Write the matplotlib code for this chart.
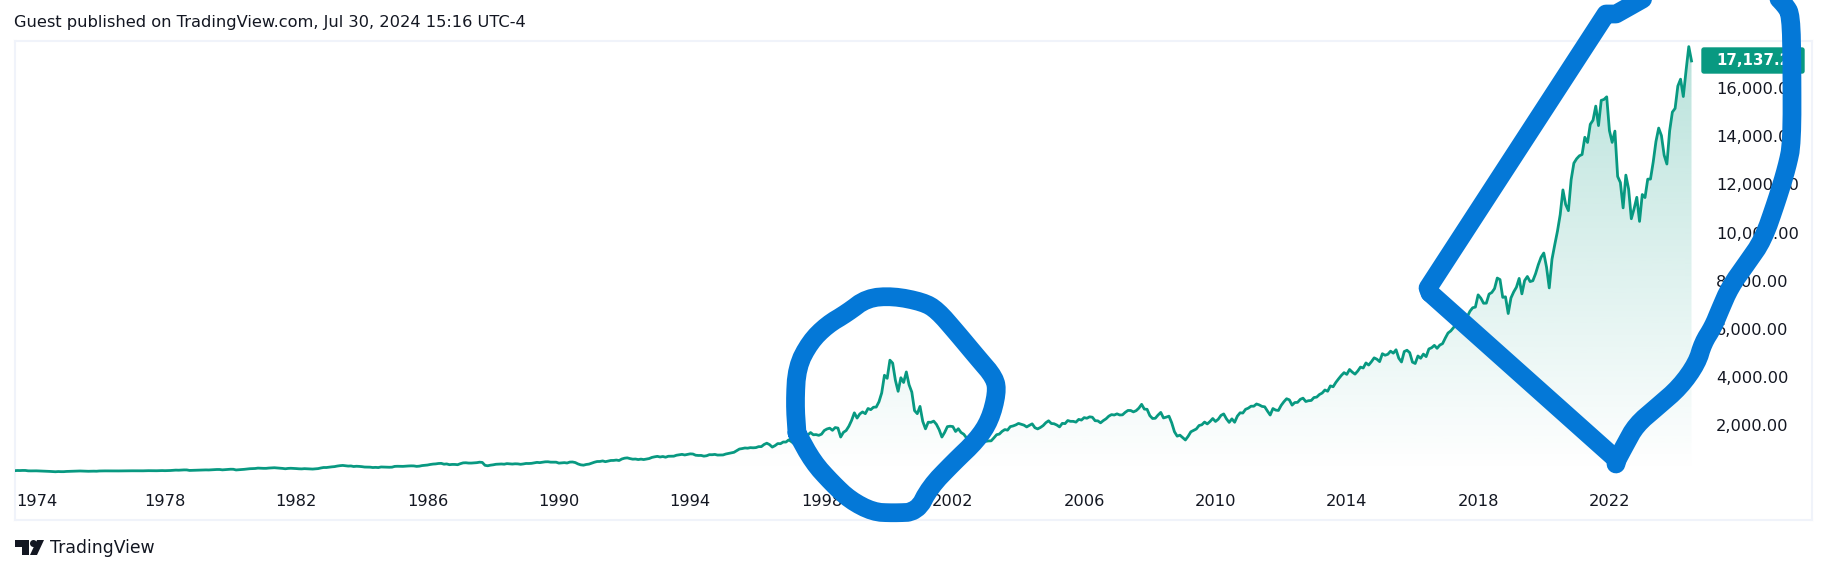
import numpy as np
import matplotlib
matplotlib.use('Agg')
import matplotlib.pyplot as plt
from matplotlib.patches import FancyBboxPatch, Polygon, Circle

plt.rcParams['font.family'] = ['DejaVu Sans']

# monthly closes, first bar is June 1973
start_year = 1973 + 5 / 12
closes = [
    100, 108, 106, 111, 110, 94, 92,
    95, 94, 90, 85, 80, 74, 70, 65, 56, 65, 60, 60,
    69, 73, 75, 79, 84, 88, 83, 79, 76, 80, 81, 78,
    88, 92, 92, 91, 88, 91, 91, 90, 92, 90, 92, 98,
    96, 95, 94, 95, 95, 100, 101, 100, 101, 98, 103, 105,
    101, 103, 108, 115, 124, 120, 127, 133, 132, 111, 115, 118,
    126, 123, 132, 133, 130, 137, 141, 150, 150, 135, 144, 151,
    161, 159, 131, 139, 150, 157, 171, 182, 188, 192, 208, 202,
    198, 198, 210, 216, 223, 215, 206, 195, 180, 195, 201, 196,
    188, 179, 175, 185, 178, 171, 168, 177, 187, 213, 233, 232,
    248, 260, 270, 293, 309, 319, 304, 292, 297, 274, 285, 279,
    268, 252, 250, 247, 232, 239, 230, 255, 250, 247, 243, 247,
    279, 284, 280, 280, 290, 296, 301, 298, 280, 289, 313, 325,
    336, 359, 375, 383, 400, 405, 371, 381, 350, 361, 360, 349,
    392, 425, 430, 417, 417, 424, 434, 454, 444, 323, 305, 330,
    345, 367, 374, 379, 370, 394, 387, 376, 387, 383, 366, 381,
    401, 399, 406, 428, 446, 435, 453, 469, 472, 455, 456, 454,
    415, 425, 435, 420, 458, 462, 438, 381, 344, 330, 359, 374,
    414, 453, 482, 484, 506, 475, 502, 525, 527, 542, 523, 586,
    620, 633, 603, 579, 585, 563, 581, 563, 583, 605, 652, 677,
    696, 670, 690, 661, 700, 704, 704, 743, 763, 779, 754, 777,
    800, 793, 743, 733, 735, 705, 722, 766, 764, 777, 750, 752,
    755, 793, 817, 843, 865, 933, 1001, 1020, 1044, 1036, 1059, 1052,
    1060, 1100, 1101, 1190, 1243, 1185, 1081, 1142, 1227, 1222, 1293, 1291,
    1380, 1309, 1221, 1260, 1400, 1442, 1594, 1587, 1686, 1594, 1601, 1570,
    1619, 1771, 1835, 1868, 1779, 1894, 1872, 1499, 1694, 1771, 1950, 2193,
    2506, 2288, 2461, 2543, 2471, 2686, 2638, 2739, 2746, 2966, 3336, 4069,
    3940, 4696, 4573, 3861, 3401, 3966, 3767, 4206, 3673, 3369, 2598, 2471,
    2773, 2152, 1840, 2116, 2110, 2161, 2027, 1805, 1499, 1690, 1931, 1950,
    1934, 1731, 1845, 1688, 1616, 1463, 1328, 1315, 1172, 1330, 1479, 1336,
    1321, 1338, 1341, 1464, 1596, 1623, 1735, 1810, 1787, 1932, 1960, 2003,
    2066, 2030, 1994, 1920, 1987, 2048, 1887, 1838, 1897, 1975, 2096, 2175,
    2062, 2052, 1999, 1921, 2068, 2057, 2185, 2152, 2152, 2120, 2233, 2205,
    2306, 2281, 2340, 2323, 2179, 2172, 2091, 2184, 2258, 2367, 2432, 2415,
    2464, 2416, 2422, 2525, 2605, 2603, 2546, 2596, 2702, 2859, 2661, 2652,
    2390, 2271, 2279, 2413, 2523, 2293, 2326, 2368, 2092, 1721, 1536, 1577,
    1476, 1378, 1529, 1717, 1774, 1835, 1979, 2009, 2122, 2045, 2145, 2269,
    2147, 2238, 2398, 2461, 2257, 2109, 2255, 2114, 2369, 2507, 2498, 2653,
    2700, 2782, 2781, 2874, 2835, 2774, 2756, 2579, 2415, 2684, 2620, 2605,
    2814, 2967, 3092, 3046, 2827, 2935, 2940, 3067, 3116, 2977, 3010, 3020,
    3142, 3160, 3268, 3329, 3456, 3403, 3626, 3590, 3771, 3920, 4060, 4177,
    4104, 4308, 4199, 4115, 4243, 4408, 4370, 4580, 4493, 4631, 4792, 4736,
    4635, 4964, 4901, 4941, 5070, 4987, 5128, 4777, 4620, 5054, 5109, 5007,
    4614, 4558, 4870, 4775, 4948, 4843, 5162, 5213, 5312, 5189, 5324, 5383,
    5615, 5825, 5912, 6048, 6199, 6140, 6348, 6429, 6496, 6728, 6874, 6903,
    7411, 7273, 7063, 7066, 7442, 7510, 7672, 8110, 8046, 7306, 7331, 6635,
    7282, 7533, 7729, 8095, 7453, 8006, 8175, 7963, 7999, 8292, 8665, 8973,
    9151, 8567, 7700, 8890, 9490, 10059, 10745, 11775, 11168, 10912, 12199, 12888,
    13070, 13192, 13247, 13963, 13749, 14504, 14673, 15259, 14449, 15498, 15537, 15645,
    14239, 13751, 14220, 12335, 12081, 11028, 12390, 11816, 10576, 10988, 11468, 10466,
    11584, 11456, 12222, 12226, 12935, 13788, 14346, 14035, 13219, 12851, 14226, 15011,
    15164, 16092, 16379, 15658, 16735, 17733, 17137,
]

year_ticks = [1974, 1978, 1982, 1986, 1990, 1994, 1998, 2002, 2006, 2010, 2014, 2018, 2022]
price_ticks = [2000, 4000, 6000, 8000, 10000, 12000, 14000, 16000]
price_labels = ['2,000.00', '4,000.00', '6,000.00', '8,000.00', '10,000.00', '12,000.00', '14,000.00', '16,000.00']
last_price = '17,137.2'
title = 'Guest published on TradingView.com, Jul 30, 2024 15:16 UTC-4'
brand = 'TradingView'

# hand drawn marks on top of the chart, in image pixels
circle_path = [(797, 433), (795, 403), (797, 367), (810, 342), (827, 325), (847, 313), (867, 298),
               (893, 296), (923, 302), (937, 310), (957, 333), (977, 357), (995, 378), (997, 393),
               (990, 420), (977, 440), (953, 463), (930, 487), (917, 512), (893, 513), (873, 512),
               (850, 500), (832, 483), (813, 462), (797, 433)]
wedge_top = [(1430, 293), (1428, 288), (1606, 14), (1616, 14), (1632, 5), (1655, -8)]
wedge_side = [(1772, -8), (1785, 5), (1791, 15), (1792, 67), (1792, 143), (1787, 167), (1777, 200),
              (1763, 240), (1747, 263), (1730, 287), (1720, 310), (1713, 327), (1703, 343),
              (1697, 363), (1680, 387), (1657, 407), (1636, 425), (1625, 445), (1617, 460)]
wedge_low = [(1430, 293), (1617, 460), (1616, 464)]

GREEN = '#089981'
BLUE = '#0478D7'
DARK = '#131722'
BORDER = '#F0F3FA'
W, H = 1827, 574


def round_corners(path, n=2):
    # corner cutting, keeps the two ends
    pts = np.array(path, dtype=float)
    for _ in range(n):
        a = pts[:-1] * 0.75 + pts[1:] * 0.25
        b = pts[:-1] * 0.25 + pts[1:] * 0.75
        mid = np.empty((a.shape[0] * 2, 2))
        mid[0::2] = a
        mid[1::2] = b
        pts = np.vstack([pts[0], mid, pts[-1]])
    return pts


fig = plt.figure(figsize=(W / 100, H / 100), dpi=100, facecolor='white')

# chart pane
left, right, top, bottom = 15, 1812, 41, 520
ax = fig.add_axes([left / W, 1 - bottom / H, (right - left) / W, (bottom - top) / H])
px_per_year = 32.83
px_per_price = 48.1 / 2000
ax.set_xlim(1974 + (left - 33.6) / px_per_year, 1974 + (right - 33.6) / px_per_year)
ax.set_ylim(2000 - (bottom - 425) / px_per_price, 2000 + (425 - top) / px_per_price)
xlim, ylim = ax.get_xlim(), ax.get_ylim()

years = start_year + np.arange(len(closes)) / 12
ax.plot(years, closes, color=GREEN, lw=2.0, solid_joinstyle='round', zorder=3)

# gradient under the line
grad = np.zeros((256, 1, 4))
grad[..., :3] = matplotlib.colors.to_rgb(GREEN)
grad[:, 0, 3] = np.linspace(0.28, 0, 256)
im = ax.imshow(grad, extent=(years[0], years[-1], 0, max(closes)), aspect='auto', origin='upper', zorder=2)
area = ax.fill_between(years, closes, 0, facecolor='none', edgecolor='none')
im.set_clip_path(area.get_paths()[0], transform=ax.transData)
ax.set_xlim(xlim)
ax.set_ylim(ylim)

for s in ax.spines.values():
    s.set_color(BORDER)
    s.set_linewidth(1.5)

# the first year label is pushed right by the pane edge
ax.set_xticks([y + 0.1 if y == 1974 else y for y in year_ticks], [str(y) for y in year_ticks])
ax.yaxis.tick_right()
ax.set_yticks(price_ticks, price_labels)
ax.tick_params(axis='x', length=0, pad=-19, labelsize=11.7, labelcolor=DARK)
ax.tick_params(axis='y', length=0, pad=-(right - 1716) * 0.72, labelsize=11.7, labelcolor=DARK)
for lab in ax.get_yticklabels():
    lab.set_ha('left')

# overlay in image pixels
ov = fig.add_axes([0, 0, 1, 1], facecolor='none')
ov.set_xlim(0, W)
ov.set_ylim(H, 0)
ov.axis('off')

ov.add_patch(FancyBboxPatch((1702, 48), 102, 25, boxstyle='round,pad=0,rounding_size=2',
                            facecolor=GREEN, edgecolor=GREEN, lw=1, zorder=2))
ov.text(1716, 60.5, last_price, color='white', fontsize=10.8, fontweight='bold', va='center', ha='left', zorder=3)

for pts in [round_corners(circle_path), np.array(wedge_top), round_corners(wedge_side), np.array(wedge_low)]:
    ov.plot(pts[:, 0], pts[:, 1], color=BLUE, lw=13.5, solid_capstyle='round', solid_joinstyle='round', zorder=5)

ov.text(14, 23, title, color=DARK, fontsize=11.7, va='center', ha='left')

# TradingView logo
ov.add_patch(Polygon([(15, 540), (29, 540), (29, 555), (22, 555), (22, 547), (15, 547)], fc=DARK, ec='none'))
ov.add_patch(Circle((33.5, 543.5), 3.5, fc=DARK, ec='none'))
ov.add_patch(Polygon([(37, 555), (44, 540), (37, 540), (30, 555)], fc=DARK, ec='none'))
ov.text(50, 548, brand, color=DARK, fontsize=12.4, va='center', ha='left')

plt.savefig('out.png', dpi=100)
plt.close()
